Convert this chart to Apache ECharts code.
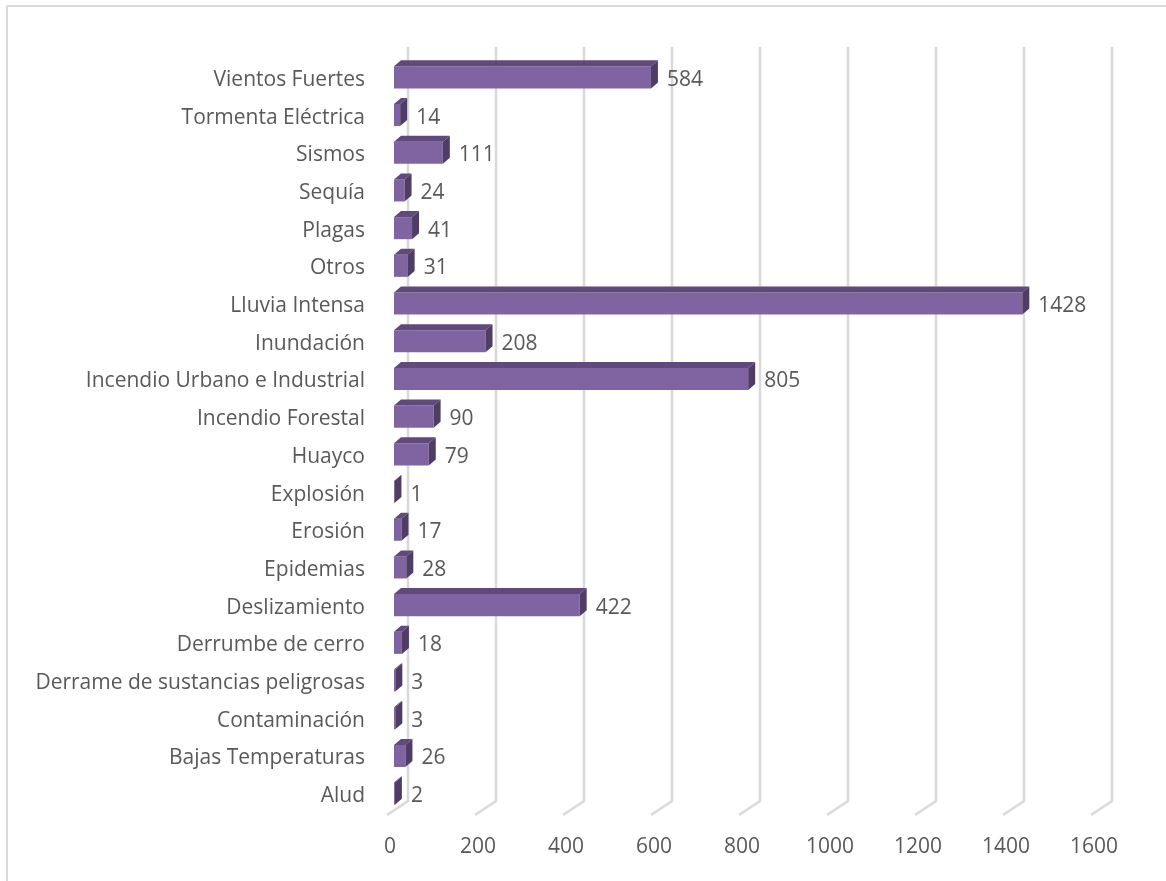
<!DOCTYPE html>
<html>
<head>
<meta charset="utf-8">
<script src="https://cdn.jsdelivr.net/npm/echarts@6/dist/echarts.min.js"></script>
<style>
html,body{margin:0;padding:0;background:#fff;}
#main{width:1166px;height:881px;}
</style>
</head>
<body>
<div id="main"></div>
<script>
var categories = ["Alud","Bajas Temperaturas","Contaminación","Derrame de sustancias peligrosas","Derrumbe de cerro","Deslizamiento","Epidemias","Erosión","Explosión","Huayco","Incendio Forestal","Incendio Urbano e Industrial","Inundación","Lluvia Intensa","Otros","Plagas","Sequía","Sismos","Tormenta Eléctrica","Vientos Fuertes"];
var values = [2,26,3,3,18,422,28,17,1,79,90,805,208,1428,31,41,24,111,14,584];
var ticks = [0,200,400,600,800,1000,1200,1400,1600];

var FONT = "'Open Sans', sans-serif";
var TXT = '#595959';
var DEPTH_X = 21, DEPTH_Y = 14;   // back wall offset
var BAR_DX = 7, BAR_DY = 3;      // bar front plane offset from floor
var BX = 7, BY = 6;              // bar depth

var chart = echarts.init(document.getElementById('main'));

var barData = values.map(function(v, i){ return [v, i]; });
var gridData = ticks.map(function(t){ return [t]; });

chart.setOption({
  animation: false,
  backgroundColor: '#fff',
  graphic: [
    {type:'line', shape:{x1:7, y1:6, x2:1166, y2:6}, style:{stroke:'#d9d9d9', lineWidth:2}, silent:true},
    {type:'line', shape:{x1:7, y1:6, x2:7, y2:881}, style:{stroke:'#d9d9d9', lineWidth:2}, silent:true}
  ],
  grid: {left: 387, right: 75, top: 61, bottom: 66, containLabel: false},
  xAxis: {
    type: 'value', min: 0, max: 1600, interval: 200,
    axisLine: {show:false}, axisTick: {show:false}, splitLine: {show:false},
    axisLabel: {color: TXT, fontFamily: FONT, fontSize: 21, margin: 22, padding: [0,0,0,6],
      formatter: function(v){ return String(v); }}
  },
  yAxis: {
    type: 'category', data: categories,
    axisLine: {show:false}, axisTick: {show:false}, splitLine: {show:false},
    axisLabel: {color: TXT, fontFamily: FONT, fontSize: 21, margin: 22}
  },
  series: [
    {
      type: 'custom', z: 1, silent: true,
      data: gridData,
      encode: {x: 0},
      renderItem: function(params, api){
        var cs = params.coordSys;
        var p = api.coord([api.value(0), 0]);
        var x = p[0];
        var bottom = cs.y + cs.height;
        var top = cs.y;
        return {
          type: 'polyline',
          shape: {points: [[x + DEPTH_X, top - DEPTH_Y], [x + DEPTH_X, bottom - DEPTH_Y], [x, bottom]]},
          style: {stroke: '#d9d9d9', lineWidth: 2.5, fill: null}
        };
      }
    },
    {
      type: 'custom', z: 2, silent: true,
      data: barData,
      encode: {x: 0, y: 1},
      renderItem: function(params, api){
        var v = api.value(0), idx = api.value(1);
        var p0 = api.coord([0, idx]);
        var p1 = api.coord([v, idx]);
        var band = api.size([0, 1])[1];
        var h = band * 0.585;
        var cy = p0[1] - BAR_DY + 0.5;
        var L = p0[0] + BAR_DX, R = p1[0] + BAR_DX;
        var T = cy - h/2, B = cy + h/2;
        return {
          type: 'group',
          children: [
            {type:'rect', shape:{x:L, y:T, width:Math.max(R-L,0.5), height:h}, style:{fill:'#8064a2'}},
            {type:'polygon', shape:{points:[[L,T],[L+BX,T-BY],[R+BX,T-BY],[R,T]]}, style:{fill:'#604a7b'}},
            {type:'polygon', shape:{points:[[R,T],[R+BX,T-BY],[R+BX,B-BY],[R,B]]}, style:{fill:'#4f3d66'}},
            {type:'text', x: R + BX + 9, y: p0[1], style:{text: String(v), fill: TXT, font: '21px ' + FONT, textVerticalAlign:'middle', textAlign:'left'}}
          ]
        };
      }
    }
  ]
});
</script>
</body>
</html>
